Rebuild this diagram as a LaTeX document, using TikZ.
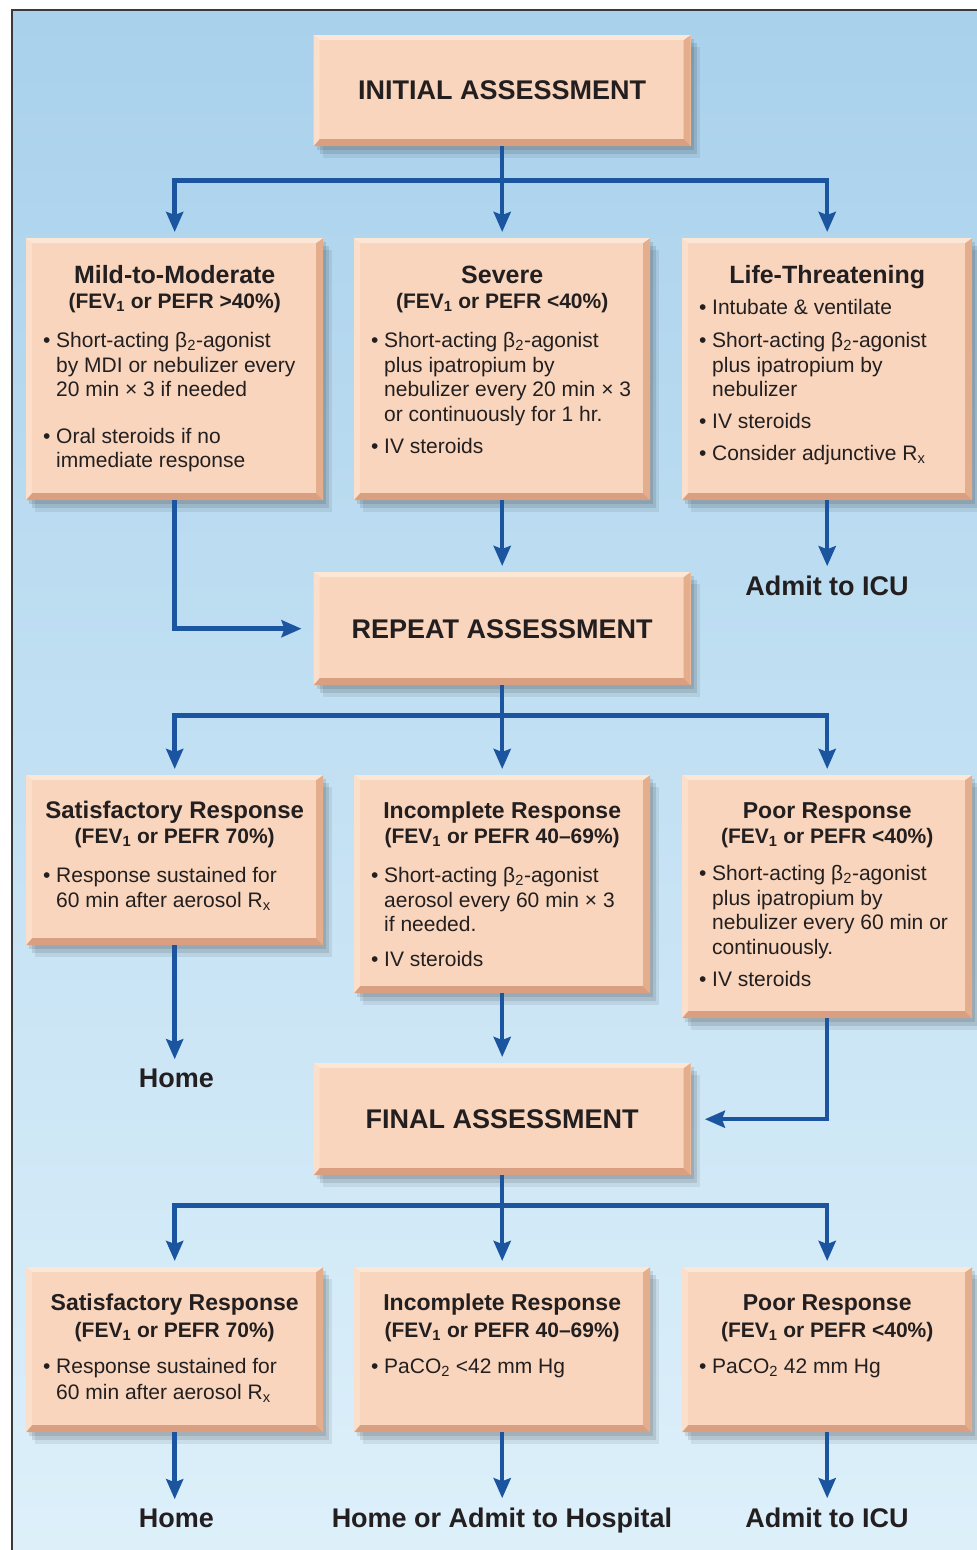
\documentclass[tikz,border=0pt]{standalone}
\usepackage{fontspec}
\setmainfont{Liberation Sans}
\usetikzlibrary{arrows.meta,calc}
\definecolor{peach}{HTML}{F8D5BC}
\definecolor{bevlight}{HTML}{FCE6D6}
\definecolor{bevleft}{HTML}{FBDFCB}
\definecolor{bevright}{HTML}{E4AD8C}
\definecolor{bevbot}{HTML}{DA9F80}
\definecolor{bgtop}{HTML}{A9D1EC}
\definecolor{bgbot}{HTML}{DDF0FA}
\definecolor{arrowblue}{HTML}{1B559F}
\definecolor{ink}{HTML}{231F20}
\definecolor{framegray}{HTML}{3A3A3A}
\makeatletter
\newcommand\ttl[3]{{\centering\fontsize{#2}{24.5}\selectfont\bfseries\rule{0pt}{#1pt}#3\par}}
\newcommand\subt[1]{{\centering\fontsize{21}{24.5}\selectfont\bfseries #1\par}}
\newcommand\bul[1]{{\fontsize{21}{24.5}\selectfont\raggedright\let\\\@normalcr\hangindent=13pt\hangafter=1\noindent\makebox[13pt][l]{•}#1\par}}
\makeatother
\tikzset{
  box/.style={rectangle, fill=peach, inner xsep=17pt, inner ysep=0pt, anchor=north west, text=ink,
    preaction={fill=black, opacity=0.10, transform canvas={xshift=3pt,yshift=-4pt}},
    preaction={fill=black, opacity=0.10, transform canvas={xshift=6pt,yshift=-8pt}},
    preaction={fill=black, opacity=0.07, transform canvas={xshift=9pt,yshift=-12pt}},
    path picture={
      \fill[bevlight] (path picture bounding box.north west) -- (path picture bounding box.north east)
        -- ([xshift=-6pt,yshift=-5pt]path picture bounding box.north east) -- ([xshift=6pt,yshift=-5pt]path picture bounding box.north west) -- cycle;
      \fill[bevleft] (path picture bounding box.north west) -- (path picture bounding box.south west)
        -- ([xshift=6pt,yshift=6pt]path picture bounding box.south west) -- ([xshift=6pt,yshift=-5pt]path picture bounding box.north west) -- cycle;
      \fill[bevright] (path picture bounding box.north east) -- (path picture bounding box.south east)
        -- ([xshift=-7pt,yshift=7pt]path picture bounding box.south east) -- ([xshift=-7pt,yshift=-5pt]path picture bounding box.north east) -- cycle;
      \fill[bevbot] (path picture bounding box.south west) -- (path picture bounding box.south east)
        -- ([xshift=-7pt,yshift=7pt]path picture bounding box.south east) -- ([xshift=6pt,yshift=7pt]path picture bounding box.south west) -- cycle;
    }},
  abox/.style={box, inner sep=0pt, minimum width=377pt, font=\fontsize{27}{30}\selectfont\bfseries},
  lbl/.style={text=ink, inner sep=0pt, anchor=base, font=\fontsize{27}{30}\selectfont\bfseries},
  arr/.style={draw=arrowblue, line width=4.5pt, -{Stealth[length=20pt,width=17pt,inset=3pt]}, shorten >=6pt}
}
\begin{document}
\begin{tikzpicture}[x=1pt,y=-1pt]
\useasboundingbox (0,0) rectangle (977,1550);
\clip (0,0) rectangle (977,1550);
\fill[white] (0,0) rectangle (977,1550);
\shade[top color=bgtop, bottom color=bgbot] (12,10) rectangle (977,1550);
\draw[framegray, line width=2pt] (12,1551) -- (12,10) -- (978,10);

% assessments
\node[abox, minimum height=111pt] (init) at (313.5,35) {INITIAL ASSESSMENT};
\node[abox, minimum height=113pt] (rep) at (313.5,572) {REPEAT ASSESSMENT};
\node[abox, minimum height=112pt] (fin) at (313.5,1063) {FINAL ASSESSMENT};

% row 1
\node[box] (mild) at (26,238) {\parbox[t][262pt][t]{263pt}{%
  \ttl{45.5}{25}{Mild-to-Moderate}
  \subt{(FEV\textsubscript{1} or PEFR >40\%)}
  \vspace{15pt}
  \bul{Short-acting β\textsubscript{2}-agonist\\by MDI or nebulizer every\\20 min × 3 if needed}
  \vspace{22pt}
  \bul{Oral steroids if no\\immediate response}}};
\node[box] (sev) at (354,238) {\parbox[t][262pt][t]{262pt}{%
  \ttl{45.5}{25}{Severe}
  \subt{(FEV\textsubscript{1} or PEFR <40\%)}
  \vspace{15pt}
  \bul{Short-acting β\textsubscript{2}-agonist\\plus ipatropium by\\nebulizer every 20 min × 3\\or continuously for 1 hr.}
  \vspace{7.5pt}
  \bul{IV steroids}}};
\node[box] (life) at (682,238) {\parbox[t][262pt][t]{256pt}{%
  \ttl{45.5}{25}{Life-Threatening}
  \vspace{6.5pt}
  \bul{Intubate \& ventilate}
  \vspace{8.5pt}
  \bul{Short-acting β\textsubscript{2}-agonist\\plus ipatropium by\\nebulizer}
  \vspace{7.5pt}
  \bul{IV steroids}
  \vspace{7.5pt}
  \bul{Consider adjunctive R\textsubscript{x}}}};

% row 2
\node[box] (sat2) at (26,775) {\parbox[t][170pt][t]{263pt}{%
  \ttl{43.5}{24}{Satisfactory Response}
  \subt{(FEV\textsubscript{1} or PEFR 70\%)}
  \vspace{15pt}
  \bul{Response sustained for\\60 min after aerosol R\textsubscript{x}}}};
\node[box] (inc2) at (354,775) {\parbox[t][218pt][t]{262pt}{%
  \ttl{43.5}{23}{Incomplete Response}
  \subt{(FEV\textsubscript{1} or PEFR 40–69\%)}
  \vspace{15pt}
  \bul{Short-acting β\textsubscript{2}-agonist\\aerosol every 60 min × 3\\if needed.}
  \vspace{10pt}
  \bul{IV steroids}}};
\node[box] (poor2) at (682,775) {\parbox[t][243pt][t]{256pt}{%
  \ttl{43.5}{23}{Poor Response}
  \subt{(FEV\textsubscript{1} or PEFR <40\%)}
  \vspace{13pt}
  \bul{Short-acting β\textsubscript{2}-agonist\\plus ipatropium by\\nebulizer every 60 min or\\continuously.}
  \vspace{7.5pt}
  \bul{IV steroids}}};

% row 3
\node[box] (sat3) at (26,1267) {\parbox[t][165pt][t]{263pt}{%
  \ttl{43.5}{23}{Satisfactory Response}
  \vspace{2.5pt}
  \subt{(FEV\textsubscript{1} or PEFR 70\%)}
  \vspace{11.5pt}
  \bul{Response sustained for\\[1.5pt]60 min after aerosol R\textsubscript{x}}}};
\node[box] (inc3) at (354,1267) {\parbox[t][165pt][t]{262pt}{%
  \ttl{43.5}{23}{Incomplete Response}
  \vspace{2.5pt}
  \subt{(FEV\textsubscript{1} or PEFR 40–69\%)}
  \vspace{11.5pt}
  \bul{PaCO\textsubscript{2} <42 mm Hg}}};
\node[box] (poor3) at (682,1267) {\parbox[t][165pt][t]{256pt}{%
  \ttl{43.5}{23}{Poor Response}
  \vspace{2.5pt}
  \subt{(FEV\textsubscript{1} or PEFR <40\%)}
  \vspace{11.5pt}
  \bul{PaCO\textsubscript{2} 42 mm Hg}}};

% outcome labels
\node[lbl] (icu1) at (827,595) {Admit to ICU};
\node[lbl] (home1) at (176.5,1087) {Home};
\node[lbl] (home2) at (176.5,1527) {Home};
\node[lbl] (hosp) at (502,1527) {Home or Admit to Hospital};
\node[lbl] (icu2) at (827,1527) {Admit to ICU};

% connectors
\draw[arr] (init.south) -- (sev.north);
\draw[arr] (init.south) -- ++(0,34) -| (mild.north);
\draw[arr] (init.south) -- ++(0,34) -| (life.north);
\draw[arr, shorten >=12pt] (mild.south) |- (rep.west);
\draw[arr] (sev.south) -- (sev.south |- rep.north);
\draw[arr] (life.south) -- ([yshift=3pt]life.south |- icu1.north);

\draw[arr] (rep.south) -- (rep.south |- inc2.north);
\draw[arr] (rep.south) -- ++(0,30) -| (sat2.north);
\draw[arr] (rep.south) -- ++(0,30) -| (poor2.north);
\draw[arr] (sat2.south) -- ([yshift=3pt]sat2.south |- home1.north);
\draw[arr] (inc2.south) -- (inc2.south |- fin.north);
\draw[arr, shorten >=14pt] (poor2.south) |- (fin.east);

\draw[arr] (fin.south) -- (fin.south |- inc3.north);
\draw[arr] (fin.south) -- ++(0,30) -| (sat3.north);
\draw[arr] (fin.south) -- ++(0,30) -| (poor3.north);
\draw[arr] (sat3.south) -- ([yshift=3pt]sat3.south |- home2.north);
\draw[arr] (inc3.south) -- ([yshift=3pt]inc3.south |- hosp.north);
\draw[arr] (poor3.south) -- ([yshift=3pt]poor3.south |- icu2.north);
\end{tikzpicture}
\end{document}
